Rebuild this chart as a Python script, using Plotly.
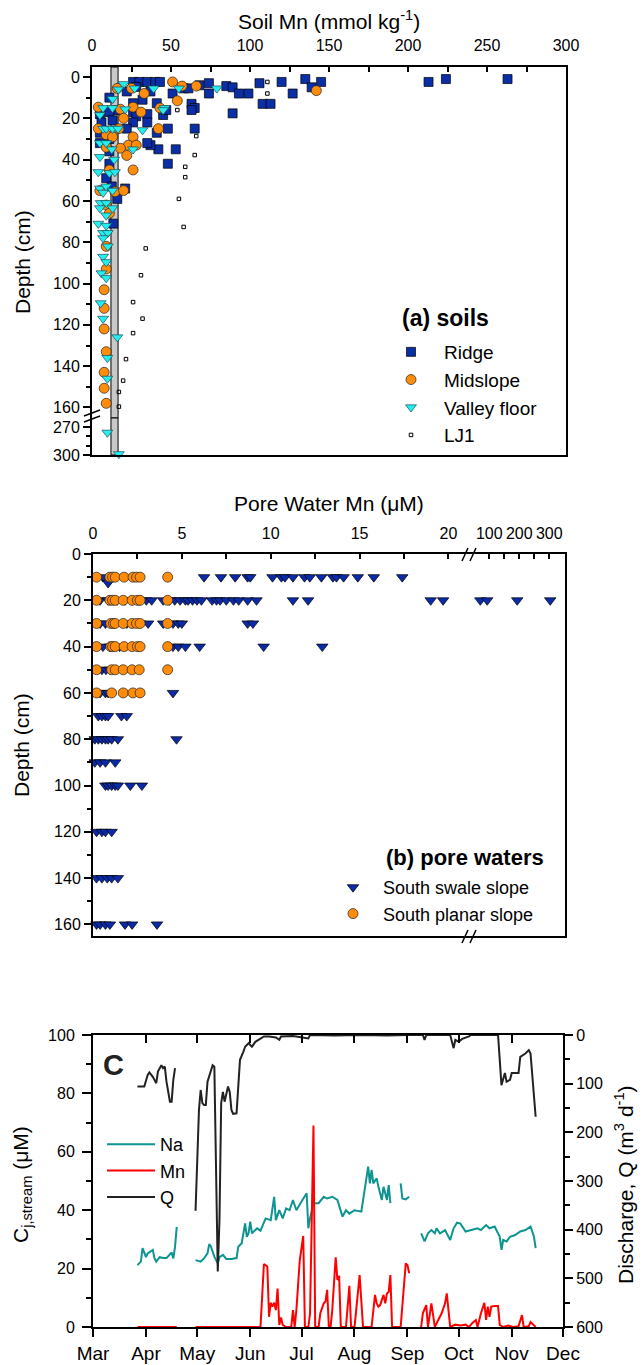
import plotly.graph_objects as go

# ---------------- panel (a): soils ----------------
ridge_mn = [26, 30, 35, 40, 43, 28, 37, 22, 51, 58, 61, 68, 74, 74, 85, 89, 93, 99, 106, 108, 113, 120, 127, 135,
            139, 145, 213, 224, 263, 89, 63, 65, 63, 65, 48, 53, 48, 42, 37, 35, 41, 45, 47, 41, 32, 26, 26, 28,
            35, 35, 26, 22, 16, 11, 11, 13, 5, 6, 5, 5, 11, 11, 11, 9, 12.5, 21, 16, 13.5]
ridge_depth = [2.4, 2.4, 2.4, 2.4, 2.4, 4.8, 7, 7, 8, 5.5, 5.5, 4, 3, 8, 4.4, 5, 8, 8, 3, 13, 13, 2.4, 8, 1,
               5, 2.4, 2.4, 1, 1, 17.6, 13, 15, 16, 25, 25, 35, 42, 35, 33, 32, 27, 18.4, 16, 12.7, 11, 12.7, 17, 19,
               18, 22, 22, 25, 16, 17, 10, 21, 18, 22, 27, 32, 30, 36, 42, 49, 53, 54, 59, 71]
mid_mn = [51, 57, 66, 142, 16, 25, 33, 54, 4, 18, 26, 31, 43, 20, 4, 9, 13, 17, 42, 26, 23, 28, 18, 22, 9, 26,
          11, 14.5, 20, 5, 9, 11, 9, 9, 7.7, 7.7, 7.7, 9, 7.7, 7.7, 9]
mid_depth = [2.4, 4.4, 4.4, 6.6, 5.5, 5.5, 8, 11.5, 14.6, 15.6, 14.6, 17, 15, 20, 25, 28, 29, 25, 25, 29, 33, 33,
             34.5, 38, 34, 45, 45, 55.6, 55, 55, 62, 66, 82, 93, 103, 112, 122, 133, 143, 150.7, 158]
valley_mn = [20, 16.7, 27, 39, 55, 79, 13, 7, 13, 21, 46, 45, 5, 7, 9, 13, 16.5, 32, 5, 9, 12.5, 26, 5, 14, 4, 11,
             14.5, 5, 9, 13, 7, 5.5, 9, 13, 5, 9, 4, 9, 7, 10, 7, 10, 7, 9, 6, 9, 5.5, 7, 16, 9.7, 9.7, 9.7, 17]
valley_depth = [3.4, 6, 5.5, 5.5, 5.5, 5.5, 10.6, 15, 15, 15.6, 15, 16, 18.4, 25, 25, 25, 25, 25.7, 32, 32, 35, 35,
                38.7, 40, 46, 46.5, 46, 54, 53, 55, 56, 61, 61, 63.5, 63.5, 67, 71, 72, 75.5, 75.5, 78, 82, 87,
                89.6, 95, 97.3, 109.5, 117, 126, 136, 146, 276, 299]
lj1_mn = [111, 111, 54, 66, 65, 59, 59, 55, 58, 34, 31, 26, 32, 26, 21.5, 19.7, 17, 17]
lj1_depth = [2.4, 8, 16, 28.6, 37.8, 43.5, 48.5, 59, 72.6, 83, 96, 109, 117, 124, 136.6, 147, 152.5, 159.6]
bedrock_mn_range = [12, 16.5]

# ---------------- panel (b): pore waters ----------------
swale_depths = [10, 12.5, 20, 30, 40, 50, 60, 70, 80, 90, 100, 120, 140, 160]
swale_mn = [
    [0.56, 6.25, 7.2, 8.0, 8.7, 8.85, 10.1, 10.6, 10.8, 11.25, 11.9, 12.2, 12.85, 13.5, 13.7, 14.1, 14.9, 15.8, 17.4],
    [0.85],
    [0.4, 0.85, 1.35, 1.8, 2.2, 2.5, 2.65, 3.0, 3.3, 3.95, 4.3, 4.6, 4.9, 5.2, 5.35, 5.6, 5.85, 6.1, 6.7, 6.95,
     7.15, 7.5, 7.9, 8.2, 8.7, 9.2, 11.25, 12.1, 19.0, 19.7, 70, 93, 193, 303],
    [0.4, 0.7, 1.2, 1.9, 2.65, 3.1, 3.95, 4.5, 4.8, 5.0, 8.7, 9.0],
    [0.56, 0.96, 1.5, 4.5, 4.8, 5.2, 6.0, 9.6, 12.9],
    [0.5, 0.73, 0.96],
    [0.4, 0.7, 0.85, 4.5],
    [0.3, 0.5, 0.7, 0.85, 1.6, 1.9],
    [0.1, 0.3, 0.5, 0.7, 0.85, 1.05, 1.4, 4.7],
    [0.1, 0.4, 0.7, 1.25],
    [0.7, 0.85, 1.05, 1.25, 1.4, 2.1, 2.75],
    [0.2, 0.5, 0.7, 1.05],
    [0.2, 0.5, 0.8, 1.05, 1.4],
    [0.2, 0.4, 0.7, 0.95, 1.8, 2.2, 3.6],
]
planar_depths = [10, 20, 30, 40, 50, 60]
planar_mn = [
    [0.2, 0.95, 1.1, 1.25, 1.75, 2.25, 2.45, 2.65, 4.2],
    [0.2, 0.95, 1.1, 1.25, 1.7, 2.2, 2.5, 2.65, 4.2],
    [0.2, 1.0, 1.15, 1.25, 1.7, 2.2, 2.45, 2.65, 4.2],
    [0.2, 1.0, 1.1, 1.25, 1.75, 2.2, 2.5, 2.65, 4.2],
    [0.2, 1.05, 1.25, 1.7, 2.2, 2.6, 4.2],
    [0.2, 1.05, 1.7, 2.25, 2.65],
]
pore_high_ticks = [100, 200, 300]
pore_high_minor = [150, 250]
PORE_BREAK = 21

# ---------------- panel (c): stream ----------------
month_starts = ["2009-03-01", "2009-04-01", "2009-05-01", "2009-06-01", "2009-07-01", "2009-08-01",
                "2009-09-01", "2009-10-01", "2009-11-01", "2009-12-01"]
month_names = ["Mar", "Apr", "May", "Jun", "Jul", "Aug", "Sep", "Oct", "Nov", "Dec"]

q_dates = ["03-27", "03-31", "04-02", "04-03", "04-05", "04-07", "04-08", "04-10", "04-11", "04-12", "04-13",
           "04-14", "04-15", "04-16", "04-17", "04-18", "04-24",
           "04-30", "05-02", "05-03", "05-04", "05-05", "05-06", "05-07", "05-09", "05-10", "05-11", "05-12",
           "05-13", "05-14", "05-15", "05-16", "05-17", "05-19", "05-20", "05-21", "05-22", "05-24", "05-25",
           "05-26", "05-28", "05-29", "05-31", "06-02", "06-04", "06-06", "06-09", "06-12", "06-16", "06-18",
           "06-19", "06-26", "07-05", "07-06", "07-20", "08-05", "08-20", "09-01", "09-10", "09-11", "09-12",
           "09-26", "09-28", "09-29", "10-01", "10-03", "10-07", "10-08", "10-24", "10-26", "10-28", "10-29",
           "10-31", "11-01", "11-05", "11-06", "11-09", "11-11", "11-12", "11-15"]
q_vals = [106, 106, 82, 77, 86, 99, 75, 62, 68, 65, 96, 113, 137, 137, 92, 68, None,
          361, 154, 113, 140, 144, 144, 96, 72, 62, 65, 312, 486, 380, 140, 117, 137, 106, 117, 154, 162, 161, 92,
          51, 34, 24, 17, 24, 14, 10, 3, 3, 5, 10, 3, 2, 7, 0, 1, 0, 1, 0, 0, 10, 0, 0, 27, 10, 14, 8, 3, 0, 0,
          103, 78, 96, 92, 78, 78, 45, 38, 31, 38, 168]

na_dates = ["03-27", "03-29", "03-30", "04-01", "04-02", "04-05", "04-06", "04-07", "04-09", "04-11", "04-13",
            "04-15", "04-16", "04-17", "04-18", "04-19", "04-24",
            "04-30", "05-03", "05-05", "05-07", "05-08", "05-09", "05-11", "05-13", "05-14", "05-16", "05-18",
            "05-21", "05-24", "05-25", "05-27", "05-29", "05-30", "05-31", "06-01", "06-02", "06-05", "06-07",
            "06-10", "06-13", "06-15", "06-16", "06-18", "06-20", "06-22", "06-24", "06-26", "06-28", "07-01",
            "07-04", "07-05", "07-06", "07-08", "07-11", "07-14", "07-16", "07-19", "07-22", "07-25", "07-27",
            "07-29", "08-01", "08-05", "08-07", "08-09", "08-10", "08-11", "08-12", "08-14", "08-15", "08-17",
            "08-18", "08-20", "08-21", "08-22", "08-25",
            "08-28", "08-29", "08-31", "09-02", "09-05",
            "09-09", "09-11", "09-13", "09-15", "09-17", "09-18", "09-20", "09-23", "09-26", "09-28", "09-30",
            "10-02", "10-05", "10-09", "10-12", "10-14", "10-17", "10-19", "10-22", "10-25", "10-26", "10-27",
            "10-29", "10-31", "11-03", "11-06", "11-09", "11-12", "11-13", "11-14", "11-15"]
na_vals = [21.2, 22.4, 27, 23.9, 25.2, 26.4, 23.5, 22.4, 23.9, 23.6, 23.6, 24.7, 25.5, 23.5, 27.5, 34.3, None,
           22.9, 22.4, 23.5, 25.2, 28.4, 27.5, 24.1, 21.8, 23.9, 24.7, 23.3, 23.3, 23.6, 27.5, 28.7, 35.5, 30.9,
           32.1, 36.1, 32.1, 33.8, 33, 37.2, 36.6, 44.6, 36.6, 40, 37.2, 40.6, 40, 43.5, 40, 43, 45.8, 33.8, 37.2,
           42.4, 42.4, 44.6, 44, 44.6, 43.5, 37.8, 40, 38.8, 40, 39.5, 48, 54.9, 49.2, 53.8, 49.2, 50.9, 48, 43.5,
           48, 43.5, 48.6, 42.4, None,
           49.2, 44, 43.7, 44.6, None,
           32.1, 29.3, 32.1, 33.2, 32.1, 33.8, 32.1, 33.2, 29.8, 33.8, 35.7, 35.4, 32.7, 33.2, 33.8, 33.2, 34.9,
           33.8, 34.4, 30.9, 26.4, 29.8, 29.3, 30.9, 31.5, 32.7, 33.2, 34.4, 32.7, 30.9, 27]

mn_dates = ["03-27", "04-05", "04-19", "04-24",
            "04-30", "06-07", "06-09", "06-11", "06-12", "06-13", "06-14", "06-15", "06-16", "06-17", "06-18",
            "06-19", "06-20", "06-22", "06-25", "06-26", "06-27", "06-28", "06-30", "07-02", "07-03", "07-05",
            "07-06", "07-08", "07-09", "07-11", "07-12", "07-14", "07-15", "07-16", "07-17", "07-18", "07-19",
            "07-20", "07-21", "07-22", "07-23", "07-24", "07-27", "07-28", "07-29", "07-30", "08-01", "08-02",
            "08-03", "08-04", "08-06", "08-11", "08-13", "08-14", "08-15", "08-16", "08-18", "08-19", "08-20",
            "08-21", "08-22", "08-23", "08-28", "08-30", "08-31", "09-01", "09-02", "09-05",
            "09-09", "09-10", "09-12", "09-13", "09-15", "09-16", "09-17", "09-19", "09-21", "09-23", "09-24",
            "09-26", "09-29", "10-02", "10-05", "10-07", "10-09", "10-11", "10-12", "10-14", "10-16", "10-17",
            "10-18", "10-19", "10-20", "10-22", "10-24", "10-25", "10-27", "10-30", "11-02", "11-05", "11-07",
            "11-08", "11-11", "11-12", "11-14", "11-15"]
mn_vals = [0, 0, 0, None,
           0, 0, 21.6, 20.7, 3.5, 8.3, 7, 8.3, 5.8, 13.2, 0.7, 3.3, 0.7, 0, 0, 5.8, 0, 5.8, 23, 31.2, 0, 0, 4.7,
           69, 0, 0, 4.7, 8.1, 8.7, 12.7, 0, 0, 5.8, 13.8, 23.9, 16.1, 17.5, 0, 0, 7, 14.1, 0, 0, 5.8, 11, 17.8,
           0, 0, 11, 8.1, 7, 7.5, 11, 8.1, 11.5, 12, 17.8, 0, 0, 13.8, 21.8, 21.2, 18.4, None,
           0, 4.7, 7.5, 0, 8.1, 4.7, 0, 2.4, 4.7, 8.1, 11.5, 0, 0.8, 0.5, 0.8, 0, 1.4, 2.4, 0, 4.7, 8.3, 2.4, 7,
           3.5, 7, 7.2, 7.2, 0.7, 0, 0.5, 0, 0.3, 4.1, 0, 0.3, 1.7, 0.5, 0]
YEAR = "2009-"

# ---------------- figure geometry ----------------
W, H = 642, 1365
FONT = "Liberation Sans, Arial, sans-serif"


def X(px):
    return px / W


def Y(py):
    return 1 - py / H


fig = go.Figure()

# panel (a) series, split between upper (0-165 cm) and lower (260-300 cm) depth segments
SOIL_SPLIT = 200
soil_series = [
    ("Ridge", ridge_mn, ridge_depth, dict(symbol="square", size=9, color="#0a2ea6",
                                          line=dict(color="black", width=0.7))),
    ("Midslope", mid_mn, mid_depth, dict(symbol="circle", size=10, color="#ff8c0a",
                                         line=dict(color="#222", width=0.7))),
    ("Valley floor", valley_mn, valley_depth, dict(symbol="triangle-down", size=9.5, color="#22f0f0",
                                                   line=dict(color="#1c4a58", width=0.7))),
    ("LJ1", lj1_mn, lj1_depth, dict(symbol="square-open", size=3.5, color="black",
                                    line=dict(color="black", width=1))),
]
for name, xs, ds, mk in soil_series:
    up = [(x, d) for x, d in zip(xs, ds) if d < SOIL_SPLIT]
    lo = [(x, d) for x, d in zip(xs, ds) if d >= SOIL_SPLIT]
    fig.add_trace(go.Scatter(x=[p[0] for p in up], y=[p[1] for p in up], mode="markers", name=name,
                             marker=mk, xaxis="x", yaxis="y", legend="legend", legendgroup=name,
                             cliponaxis=False))
    if lo:
        fig.add_trace(go.Scatter(x=[p[0] for p in lo], y=[p[1] for p in lo], mode="markers", name=name,
                                 marker=mk, xaxis="x2", yaxis="y2", showlegend=False, legendgroup=name,
                                 cliponaxis=False))

# panel (b)
sw_x, sw_d = [], []
for d, vals in zip(swale_depths, swale_mn):
    for v in vals:
        sw_x.append(v)
        sw_d.append(d)
pl_x, pl_d = [], []
for d, vals in zip(planar_depths, planar_mn):
    for v in vals:
        pl_x.append(v)
        pl_d.append(d)

sw_mk = dict(symbol="triangle-down", size=10, color="#0a2aa8", line=dict(color="black", width=0.7))
pl_mk = dict(symbol="circle", size=10, color="#ff8c0a", line=dict(color="#222", width=0.7))
fig.add_trace(go.Scatter(x=[v for v in sw_x if v <= PORE_BREAK], y=[d for v, d in zip(sw_x, sw_d) if v <= PORE_BREAK],
                         mode="markers", name="South swale slope", marker=sw_mk, xaxis="x3", yaxis="y3",
                         legend="legend2", legendgroup="sw", cliponaxis=False))
fig.add_trace(go.Scatter(x=[v for v in sw_x if v > PORE_BREAK], y=[d for v, d in zip(sw_x, sw_d) if v > PORE_BREAK],
                         mode="markers", name="South swale slope", marker=sw_mk, xaxis="x4", yaxis="y4",
                         showlegend=False, legendgroup="sw", cliponaxis=False))
fig.add_trace(go.Scatter(x=pl_x, y=pl_d, mode="markers", name="South planar slope", marker=pl_mk,
                         xaxis="x3", yaxis="y3", legend="legend2", cliponaxis=False))

# panel (c)
fig.add_trace(go.Scatter(x=[YEAR + d for d in na_dates], y=na_vals, mode="lines", name="Na",
                         line=dict(color="#0e9490", width=2), xaxis="x5", yaxis="y5", legend="legend3",
                         connectgaps=False))
fig.add_trace(go.Scatter(x=[YEAR + d for d in mn_dates], y=mn_vals, mode="lines", name="Mn",
                         line=dict(color="#ff0000", width=2), xaxis="x5", yaxis="y5", legend="legend3",
                         connectgaps=False))
fig.add_trace(go.Scatter(x=[YEAR + d for d in q_dates], y=q_vals, mode="lines", name="Q",
                         line=dict(color="#222222", width=2), xaxis="x5", yaxis="y6", legend="legend3",
                         connectgaps=False))
fig.add_trace(go.Scatter(x=[YEAR + month_starts[0][5:]], y=[None], mode="lines", xaxis="x6", yaxis="y5",
                         showlegend=False))

tickfont = dict(family=FONT, size=16, color="black")
base = dict(showgrid=False, zeroline=False, linecolor="black", linewidth=2, tickcolor="black",
            tickwidth=1.5, tickfont=tickfont, showline=True, automargin=False, tickangle=0)


def minor(dt, ln, where):
    return dict(dtick=dt, ticklen=ln, ticks=where, tickcolor="black", tickwidth=1.5, showgrid=False)


fig.update_layout(
    template="none",
    width=W, height=H, margin=dict(l=0, r=0, t=0, b=0, autoexpand=False),
    paper_bgcolor="white", plot_bgcolor="white",
    font=dict(family=FONT, color="black"),
    # panel (a)
    xaxis=dict(base, domain=[X(92), X(566)], anchor="y", side="top", range=[0, 300], dtick=50,
               ticks="inside", ticklen=5, minor=minor(25, 5, "inside"), ticklabelstandoff=8),
    yaxis=dict(base, domain=[Y(418), Y(67)], anchor="x", range=[165.1, -4.84], dtick=20, ticks="outside",
               ticklen=7, minor=minor(10, 4, "outside"), mirror=True),
    xaxis2=dict(base, domain=[X(92), X(566)], anchor="y2", range=[0, 300], ticks="", showticklabels=False),
    yaxis2=dict(base, domain=[Y(455), Y(418)], anchor="x2", range=[300, 260.4], dtick=30, tick0=0,
                ticks="outside", ticklen=7, minor=minor(10, 4, "outside"), mirror=True),
    # panel (b)
    xaxis3=dict(base, domain=[X(93), X(468)], anchor="y3", side="top", range=[0, 21.1], dtick=5,
                ticks="inside", ticklen=5, minor=minor(2.5, 5, "inside"), mirror=True, ticklabelstandoff=7),
    xaxis4=dict(base, domain=[X(468), X(565)], anchor="y4", side="top", range=[29, 352.3],
                tickmode="array", tickvals=pore_high_ticks,
                minor=dict(tickmode="array", tickvals=pore_high_minor, ticks="inside", ticklen=5,
                           tickcolor="black", tickwidth=1.5, showgrid=False),
                ticks="inside", ticklen=5, mirror=True, ticklabelstandoff=7),
    yaxis3=dict(base, domain=[Y(936), Y(554)], anchor="x3", range=[165, 0], dtick=20, ticks="outside",
                ticklen=7, minor=minor(10, 4, "outside")),
    yaxis4=dict(base, domain=[Y(936), Y(554)], anchor="x4", side="right", range=[165, 0], ticks="",
                showticklabels=False),
    # panel (c)
    xaxis5=dict(base, domain=[X(93), X(563)], anchor="y5", type="date",
                range=[month_starts[0], month_starts[-1]], tickmode="array", tickvals=month_starts,
                ticktext=month_names, ticks="outside", ticklen=8, mirror=True,
                tickfont=dict(family=FONT, size=19, color="black")),
    xaxis6=dict(base, overlaying="x5", anchor="y5", side="top", type="date",
                range=[month_starts[0], month_starts[-1]], tickmode="array", tickvals=month_starts,
                ticks="inside", ticklen=8, showticklabels=False, showline=False),
    yaxis5=dict(base, domain=[Y(1327), Y(1035)], anchor="x5", range=[0, 100], dtick=20, ticks="outside",
                ticklen=9, minor=minor(10, 5, "outside"), ticklabelstandoff=4),
    yaxis6=dict(base, overlaying="y5", anchor="x5", side="right", range=[600, 0], dtick=100,
                ticks="outside", ticklen=8, minor=minor(50, 5, "outside")),
    legend=dict(x=X(378), y=Y(333), xanchor="left", yanchor="top", font=dict(family=FONT, size=19),
                bgcolor="rgba(0,0,0,0)", tracegroupgap=0, borderwidth=0, itemwidth=56),
    legend2=dict(x=X(323), y=Y(869), xanchor="left", yanchor="top", font=dict(family=FONT, size=18),
                 bgcolor="rgba(0,0,0,0)", tracegroupgap=0, borderwidth=0, itemwidth=50),
    legend3=dict(x=X(102), y=Y(1126), xanchor="left", yanchor="top", font=dict(family=FONT, size=18),
                 bgcolor="rgba(0,0,0,0)", borderwidth=0, itemwidth=48),
    showlegend=True,
)

# bedrock band in panel (a), drawn on both depth segments
for xr, yr in (("x", "y domain"), ("x2", "y2 domain")):
    fig.add_shape(type="rect", xref=xr, yref=yr, x0=bedrock_mn_range[0], x1=bedrock_mn_range[1], y0=0, y1=1,
                  fillcolor="#c8c8c8", line=dict(color="black", width=1), layer="below")

# axis-break marks
breaks = [((84, 416), (100, 410)), ((84, 422), (100, 416)),
          ((462, 561), (468, 548)), ((470, 561), (476, 548)),
          ((462, 943), (468, 930)), ((470, 943), (476, 930))]
for (x0, y0), (x1, y1) in breaks:
    fig.add_shape(type="line", xref="paper", yref="paper", x0=X(x0), y0=Y(y0), x1=X(x1), y1=Y(y1),
                  line=dict(color="black", width=1.5))

ann = dict(xref="paper", yref="paper", showarrow=False, font=dict(family=FONT, size=21, color="black"))
fig.add_annotation(ann, x=X(329), y=Y(20), text="Soil Mn (mmol kg<sup>-1</sup>)", xanchor="center",
                   yanchor="middle")
fig.add_annotation(ann, x=X(22), y=Y(262), text="Depth (cm)", textangle=-90, xanchor="center",
                   yanchor="middle")
fig.add_annotation(ann, x=X(329), y=Y(503), text="Pore Water Mn (μM)", xanchor="center", yanchor="middle")
fig.add_annotation(ann, x=X(22), y=Y(745), text="Depth (cm)", textangle=-90, xanchor="center",
                   yanchor="middle")
fig.add_annotation(ann, x=X(22), y=Y(1185), text="C<sub>j,stream</sub> (μM)", textangle=-90,
                   xanchor="center", yanchor="middle")
fig.add_annotation(ann, x=X(624), y=Y(1185), text="Discharge, Q (m<sup>3</sup> d<sup>-1</sup>)",
                   textangle=-90, xanchor="center", yanchor="middle")
fig.add_annotation(ann, x=X(400), y=Y(318), text="<b>(a) soils</b>", xanchor="left", yanchor="middle",
                   font=dict(family=FONT, size=23, color="black"))
fig.add_annotation(ann, x=X(384), y=Y(857), text="<b>(b) pore waters</b>", xanchor="left",
                   yanchor="middle", font=dict(family=FONT, size=22, color="black"))
fig.add_annotation(ann, x=X(113), y=Y(1065), text="<b>C</b>", xanchor="center", yanchor="middle",
                   font=dict(family=FONT, size=29, color="#222"))

fig.write_html("out.html")
